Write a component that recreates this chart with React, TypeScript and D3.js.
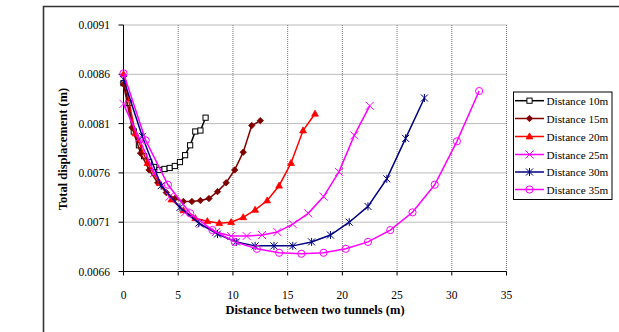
import React from "react";
import * as d3 from "d3";

const xTicks = [0, 5, 10, 15, 20, 25, 30, 35];
const yTicks = [0.0066, 0.0071, 0.0076, 0.0081, 0.0086, 0.0091];

const x10 = [0, 0.47, 0.94, 1.41, 1.88, 2.34, 2.81, 3.28, 3.75, 4.22, 4.69, 5.16, 5.63, 6.09, 6.56, 7.03, 7.5];
const y10 = [0.00851, 0.00831, 0.00802, 0.00788, 0.00777, 0.00771, 0.00766, 0.00763, 0.00764, 0.00765, 0.00767, 0.00771, 0.00778, 0.00788, 0.00802, 0.00803, 0.00816];

const x15 = [0, 0.78, 1.56, 2.34, 3.13, 3.91, 4.69, 5.47, 6.25, 7.03, 7.81, 8.59, 9.38, 10.16, 10.94, 11.72, 12.5];
const y15 = [0.0085, 0.00806, 0.0078, 0.00763, 0.0075, 0.0074, 0.00734, 0.00731, 0.00731, 0.00732, 0.00734, 0.00741, 0.0075, 0.00763, 0.00781, 0.00808, 0.00813];

const x20 = [0, 1.09, 2.19, 3.28, 4.38, 5.47, 6.56, 7.66, 8.75, 9.84, 10.94, 12.03, 13.13, 14.22, 15.31, 16.41, 17.5];
const y20 = [0.0086, 0.008, 0.0077, 0.0075, 0.00733, 0.00722, 0.00714, 0.00711, 0.00709, 0.0071, 0.00715, 0.007225, 0.00732, 0.00747, 0.0077, 0.00803, 0.0082];

const x25 = [0, 1.41, 2.81, 4.22, 5.63, 7.03, 8.44, 9.84, 11.25, 12.66, 14.06, 15.47, 16.88, 18.28, 19.69, 21.09, 22.5];
const y25 = [0.0083, 0.00795, 0.0076, 0.00736, 0.0072, 0.00708, 0.007, 0.00696, 0.00696, 0.00697, 0.007, 0.00708, 0.00719, 0.00736, 0.00761, 0.00798, 0.00828];

const x30 = [0, 1.72, 3.44, 5.16, 6.88, 8.59, 10.31, 12.03, 13.75, 15.47, 17.19, 18.91, 20.63, 22.34, 24.06, 25.78, 27.5];
const y30 = [0.00855, 0.00797, 0.00747, 0.00725, 0.00709, 0.00698, 0.0069, 0.00686, 0.00686, 0.00686, 0.0069, 0.00697, 0.0071, 0.00726, 0.00754, 0.00795, 0.00836];

const x35 = [0, 2.03, 4.06, 6.09, 8.13, 10.16, 12.19, 14.22, 16.25, 18.28, 20.31, 22.34, 24.38, 26.41, 28.44, 30.47, 32.5];
const y35 = [0.00861, 0.00793, 0.00748, 0.00719, 0.00702, 0.0069, 0.00683, 0.00679, 0.00678, 0.00679, 0.00683, 0.0069, 0.00702, 0.0072, 0.00748, 0.00792, 0.00843];

const seriesNames = ["Distance 10m", "Distance 15m", "Distance 20m", "Distance 25m", "Distance 30m", "Distance 35m"];
const seriesColors = ["#000000", "#800000", "#FF0000", "#FF00FF", "#000080", "#FF00FF"];
const seriesMarkers = ["square", "diamond", "triangle", "x", "star", "circle"];
const seriesX = [x10, x15, x20, x25, x30, x35];
const seriesY = [y10, y15, y20, y25, y30, y35];

const FONT = "Liberation Serif";

function Marker({ type, cx, cy, color }: { type: string; cx: number; cy: number; color: string }) {
  const s = 2.6;
  switch (type) {
    case "square":
      return <rect x={cx - s} y={cy - s} width={2 * s} height={2 * s} fill="#fff" stroke={color} strokeWidth={1} />;
    case "diamond":
      return <path d={`M${cx},${cy - 3.2}L${cx + 3.2},${cy}L${cx},${cy + 3.2}L${cx - 3.2},${cy}Z`} fill={color} stroke={color} strokeWidth={0.8} />;
    case "triangle":
      return <path d={`M${cx},${cy - 3.6}L${cx + 3.4},${cy + 2.4}L${cx - 3.4},${cy + 2.4}Z`} fill={color} stroke={color} strokeWidth={0.8} />;
    case "x":
      return <path d={`M${cx - 4},${cy - 4}L${cx + 4},${cy + 4}M${cx - 4},${cy + 4}L${cx + 4},${cy - 4}`} stroke={color} strokeWidth={1} fill="none" />;
    case "star":
      return <path d={`M${cx - 3.5},${cy - 3.5}L${cx + 3.5},${cy + 3.5}M${cx - 3.5},${cy + 3.5}L${cx + 3.5},${cy - 3.5}M${cx},${cy - 4}L${cx},${cy + 4}`} stroke={color} strokeWidth={1} fill="none" />;
    case "circle":
      return <circle cx={cx} cy={cy} r={3.6} fill="none" stroke={color} strokeWidth={1} />;
    default:
      return null;
  }
}

export default function App() {
  const W = 619, H = 332;
  const x = d3.scaleLinear().domain([0, 35]).range([123.5, 506.5]);
  const y = d3.scaleLinear().domain([0.0066, 0.0091]).range([271.5, 25]);
  const line = d3.line<[number, number]>().x((d) => x(d[0])).y((d) => y(d[1]));

  const legX = 513.5, legY = 92, legW = 98.5, legH = 107.5;
  const legRowY = [100.7, 118.5, 136.5, 154.5, 172, 189.5];
  const txt = { fontFamily: FONT };

  return (
    <svg width={W} height={H} style={{ position: "absolute", left: 0, top: 0, background: "#fff", fontFamily: FONT }}>
      {/* outer frame */}
      <path d={`M43.5,${H + 2}L43.5,6.5L${W + 2},6.5`} fill="none" stroke="#333" strokeWidth={1.6} />

      {/* gridlines */}
      {xTicks.slice(1).map((t) => (
        <line key={"gx" + t} x1={x(t)} x2={x(t)} y1={y(0.0091)} y2={y(0.0066)} stroke="#777" strokeWidth={1} strokeDasharray="1 1" />
      ))}
      {yTicks.slice(1).map((t) => (
        <line key={"gy" + t} x1={x(0)} x2={x(35)} y1={y(t)} y2={y(t)} stroke="#777" strokeWidth={1} strokeDasharray="1 1" />
      ))}

      {/* axes */}
      <line x1={x(0)} x2={x(0)} y1={y(0.0091)} y2={y(0.0066)} stroke="#000" strokeWidth={1} />
      <line x1={x(0)} x2={x(35)} y1={y(0.0066)} y2={y(0.0066)} stroke="#000" strokeWidth={1} />
      {yTicks.map((t) => (
        <g key={"yt" + t}>
          <line x1={x(0) - 5} x2={x(0)} y1={y(t)} y2={y(t)} stroke="#000" />
          <text x={110} y={y(t) + 4} textAnchor="end" fontSize={11.5} fill="#000" style={txt}>{d3.format(".4f")(t)}</text>
        </g>
      ))}
      {xTicks.map((t) => (
        <g key={"xt" + t}>
          <line x1={x(t)} x2={x(t)} y1={y(0.0066)} y2={y(0.0066) + 4} stroke="#000" />
          <text x={x(t)} y={299} textAnchor="middle" fontSize={11.5} fill="#000" style={txt}>{t}</text>
        </g>
      ))}

      {/* axis titles */}
      <text x={315} y={314} textAnchor="middle" fontSize={12.5} fontWeight="bold" fill="#000" style={txt}>Distance between two tunnels (m)</text>
      <text transform="translate(67,149) rotate(-90)" textAnchor="middle" fontSize={12.5} fontWeight="bold" fill="#000" style={txt}>Total displacement (m)</text>

      {/* series */}
      {seriesNames.map((name, i) => {
        const pts: [number, number][] = seriesX[i].map((v, j) => [v, seriesY[i][j]]);
        return (
          <g key={name}>
            <path d={line(pts) || ""} fill="none" stroke={seriesColors[i]} strokeWidth={1.5} />
            {pts.map((p, j) => (
              <Marker key={j} type={seriesMarkers[i]} cx={x(p[0])} cy={y(p[1])} color={seriesColors[i]} />
            ))}
          </g>
        );
      })}

      {/* legend */}
      <rect x={legX} y={legY} width={legW} height={legH} fill="#fff" stroke="#000" strokeWidth={1} />
      {seriesNames.map((name, i) => (
        <g key={"lg" + name}>
          <line x1={515} x2={544} y1={legRowY[i]} y2={legRowY[i]} stroke={seriesColors[i]} strokeWidth={1.5} />
          <Marker type={seriesMarkers[i]} cx={529.5} cy={legRowY[i]} color={seriesColors[i]} />
          <text x={546.5} y={legRowY[i] + 4} fontSize={11.2} fill="#000" style={txt}>{name}</text>
        </g>
      ))}
    </svg>
  );
}
